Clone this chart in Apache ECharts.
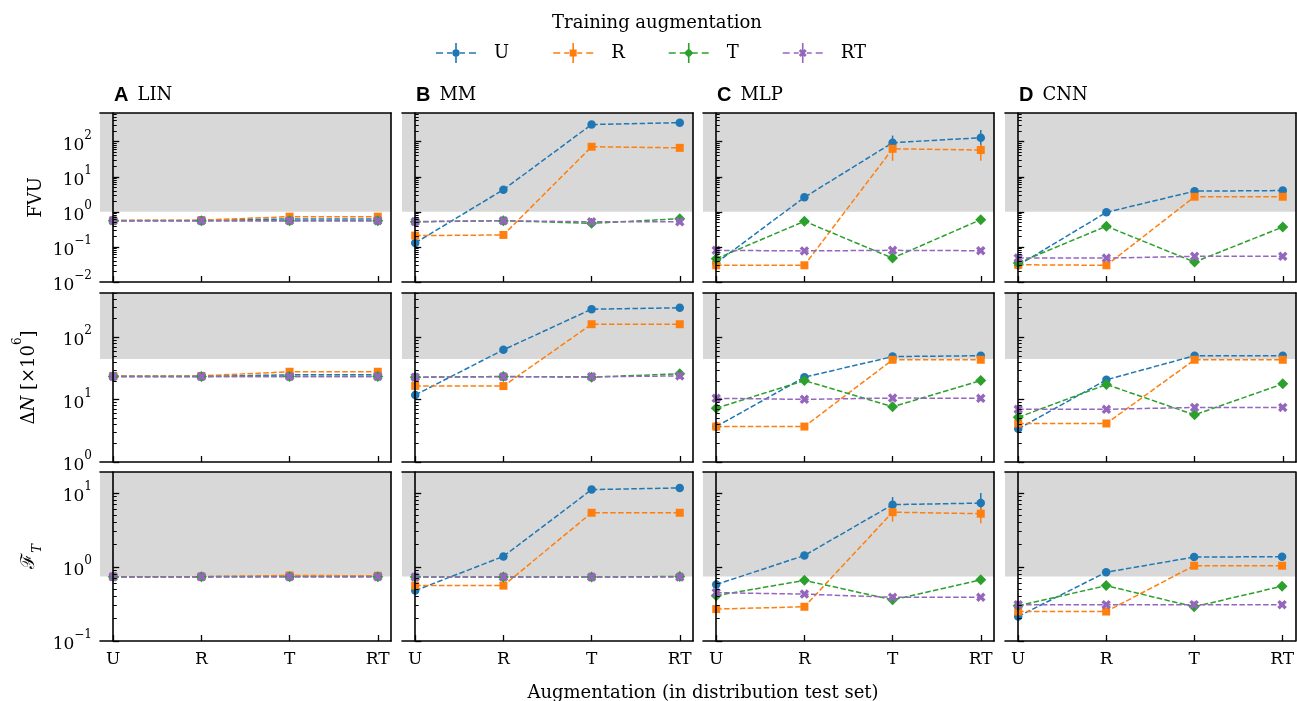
<!DOCTYPE html>
<html>
<head>
<meta charset="utf-8">
<script src="https://cdn.jsdelivr.net/npm/echarts@6/dist/echarts.min.js"></script>
<style>
  html, body { margin: 0; padding: 0; background: #fff; }
  #chart { width: 1297px; height: 701px; }
</style>
</head>
<body>
<div id="chart"></div>
<script>
// test-set augmentation (x) and training augmentation (series)
const CATS = ['U', 'R', 'T', 'RT'];
const TRAIN = ['U', 'R', 'T', 'RT'];
const MODELS = ['LIN', 'MM', 'MLP', 'CNN'];
const LETTERS = ['A', 'B', 'C', 'D'];

// FVU, one row per training augmentation U, R, T, RT
const FVU_LIN = [[0.57, 0.57, 0.63, 0.63], [0.57, 0.58, 0.73, 0.73], [0.56, 0.56, 0.56, 0.56], [0.56, 0.56, 0.56, 0.56]];
const FVU_MM = [[0.13, 4.3, 310, 350], [0.21, 0.22, 72, 67], [0.52, 0.56, 0.47, 0.64], [0.53, 0.56, 0.52, 0.52]];
const FVU_MLP = [[0.035, 2.6, 94, 130], [0.030, 0.030, 63, 58], [0.046, 0.54, 0.048, 0.6], [0.08, 0.077, 0.08, 0.078]];
const FVU_CNN = [[0.030, 0.97, 3.9, 4.05], [0.031, 0.030, 2.7, 2.7], [0.035, 0.39, 0.037, 0.37], [0.048, 0.048, 0.054, 0.054]];

// ΔN [×10^6]
const DN_LIN = [[23.5, 23.5, 25, 25], [24, 24, 28, 28], [23.5, 23.5, 23.5, 23.5], [23.5, 23.5, 23.5, 23.5]];
const DN_MM = [[11.9, 63, 282, 297], [16.6, 16.5, 162, 162], [22.9, 23.5, 22.9, 26], [22.9, 23.3, 23.3, 24]];
const DN_MLP = [[3.7, 22.9, 49, 50.7], [3.7, 3.7, 43.6, 43.6], [7.3, 20.2, 7.7, 20.2], [10.5, 10.1, 10.6, 10.5]];
const DN_CNN = [[3.4, 20.8, 50.7, 50.7], [4.15, 4.15, 43.6, 43.6], [5.2, 17.5, 5.7, 17.9], [7.0, 7.0, 7.5, 7.5]];

// F_T
const FT_LIN = [[0.74, 0.74, 0.75, 0.75], [0.74, 0.74, 0.77, 0.76], [0.74, 0.74, 0.74, 0.74], [0.74, 0.74, 0.74, 0.74]];
const FT_MM = [[0.48, 1.39, 11.1, 11.7], [0.56, 0.56, 5.4, 5.4], [0.73, 0.73, 0.73, 0.745], [0.73, 0.73, 0.73, 0.73]];
const FT_MLP = [[0.58, 1.43, 6.95, 7.3], [0.27, 0.29, 5.5, 5.25], [0.41, 0.66, 0.36, 0.67], [0.45, 0.43, 0.39, 0.39]];
const FT_CNN = [[0.215, 0.85, 1.36, 1.38], [0.25, 0.25, 1.04, 1.04], [0.30, 0.56, 0.29, 0.55], [0.31, 0.31, 0.31, 0.31]];

// error bars [low, high], only visible for the MLP (U and R training)
const FVU_MLP_ERR = [[null, null, [60, 150], [75, 215]], [null, null, [28.6, 115], [28.6, 83]]];
const FT_MLP_ERR = [[null, null, [5.95, 8.8], [5.6, 10]], [null, null, [4.1, 6.6], [3.9, 6.3]]];

const ROW_DATA = [
  [FVU_LIN, FVU_MM, FVU_MLP, FVU_CNN],
  [DN_LIN, DN_MM, DN_MLP, DN_CNN],
  [FT_LIN, FT_MM, FT_MLP, FT_CNN]
];
const ROW_ERR = [[null, null, FVU_MLP_ERR, null], [null, null, null, null], [null, null, FT_MLP_ERR, null]];

// axis limits and start of the grey band, per row
const Y_MIN = [0.01, 1, 0.1];
const Y_MAX = [660, 513, 19.2];
const SHADE_FROM = [1, 45, 0.746];

// layout
const GRID_LEFT = [100, 402, 703, 1005];
const GRID_TOP = [113, 293, 472];
const GRID_W = 291, GRID_H = 169;

const SERIF = "'DejaVu Serif', serif";
const COLORS = ['#1f77b4', '#ff7f0e', '#2ca02c', '#9467bd'];
const X_PATH = 'path://M141,-283L283,-141L141,0L283,141L141,283L0,141L-141,283L-283,141L-141,0L-283,-141L-141,-283L0,-141Z';
const SYMBOLS = ['circle', 'rect', 'diamond', X_PATH];
const SYM_SIZE = [8.5, 8, 11, 9.5];

const ROW_NAMES = [
  'FVU',
  '{a|Δ}{i|N}{a| [×10}{s|6}{a|]}',
  '{f|ℱ}{t|T}'
];
const NAME_GAP = [55, 62, 56];

function decades(lo, hi) {
  const out = [];
  for (let e = Math.round(Math.log10(lo)); Math.pow(10, e) <= hi; e++) out.push(Math.pow(10, e));
  return out;
}
function minors(lo, hi) {
  const out = [];
  for (let e = Math.floor(Math.log10(lo)); e <= Math.ceil(Math.log10(hi)); e++) {
    for (let k = 2; k <= 9; k++) {
      const v = k * Math.pow(10, e);
      if (v > lo && v < hi) out.push(v);
    }
  }
  return out;
}

function legendIcon(s) {
  const dashes = 'M0,92H70V108H0Z M110,92H160V108H110Z M240,92H290V108H240Z M330,92H400V108H330Z ';
  const bar = 'M192,0H208V200H192Z ';
  const marks = [
    'M163,100A37,37 0 1,1 237,100A37,37 0 1,1 163,100Z',
    'M165,65H235V135H165Z',
    'M200,52L248,100L200,148L152,100Z',
    'M220,60L240,80L220,100L240,120L220,140L200,120L180,140L160,120L180,100L160,80L180,60L200,80Z'
  ];
  return 'path://' + dashes + bar + marks[s];
}

const grids = [], xAxes = [], yAxes = [], series = [];
const titles = [
  { text: 'Training augmentation', left: 652, top: 9, textAlign: 'center',
    textStyle: { fontFamily: SERIF, fontSize: 18, fontWeight: 'normal', color: '#000' } },
  { text: 'Augmentation (in distribution test set)', left: 698, top: 679, textAlign: 'center',
    textStyle: { fontFamily: SERIF, fontSize: 18, fontWeight: 'normal', color: '#000' } }
];

const tickLine = { color: '#000', width: 1.3 };
const frameLine = { show: true, lineStyle: { color: '#000', width: 1.6 } };

for (let r = 0; r < 3; r++) {
  for (let c = 0; c < 4; c++) {
    const gi = r * 4 + c;
    grids.push({ left: GRID_LEFT[c], top: GRID_TOP[r], width: GRID_W, height: GRID_H });

    const xBase = { gridIndex: gi, type: 'value', min: -0.15, max: 3.15, splitLine: { show: false }, z: 10 };
    xAxes.push(Object.assign({}, xBase, {
      position: 'bottom',
      axisLine: frameLine,
      axisTick: { customValues: [0, 1, 2, 3], inside: true, length: 6, lineStyle: tickLine },
      axisLabel: { show: r === 2, customValues: [0, 1, 2, 3], formatter: v => CATS[v],
        color: '#000', fontFamily: SERIF, fontSize: 17, margin: 10 }
    }));
    xAxes.push(Object.assign({}, xBase, {
      position: 'top', axisLine: frameLine, axisTick: { show: false }, axisLabel: { show: false }
    }));

    const yBase = { gridIndex: gi, type: 'log', logBase: 10, min: Y_MIN[r], max: Y_MAX[r], splitLine: { show: false }, z: 10 };
    const major = decades(Y_MIN[r], Y_MAX[r]);
    yAxes.push(Object.assign({}, yBase, {
      position: 'left',
      axisLine: frameLine,
      axisTick: { customValues: major, inside: true, length: 6, lineStyle: tickLine },
      axisLabel: {
        show: c === 0, customValues: major, margin: 8,
        formatter: v => {
          const e = Math.round(Math.log10(v));
          return '{b|10}{s|' + (e < 0 ? '\u2212' + (-e) : e) + '}';
        },
        rich: {
          b: { fontFamily: SERIF, fontSize: 17, color: '#000', lineHeight: 24, verticalAlign: 'bottom' },
          s: { fontFamily: SERIF, fontSize: 12, color: '#000', lineHeight: 12, verticalAlign: 'top' }
        }
      },
      name: c === 0 ? ROW_NAMES[r] : '',
      nameLocation: 'middle',
      nameGap: NAME_GAP[r],
      nameTextStyle: {
        fontFamily: SERIF, fontSize: 18, color: '#000',
        rich: {
          a: { fontFamily: SERIF, fontSize: 18, color: '#000', lineHeight: 26, verticalAlign: 'bottom' },
          i: { fontFamily: SERIF, fontSize: 18, fontStyle: 'italic', color: '#000', lineHeight: 26, verticalAlign: 'bottom' },
          s: { fontFamily: SERIF, fontSize: 12, color: '#000', lineHeight: 12, verticalAlign: 'top' },
          f: { fontFamily: SERIF, fontSize: 19, color: '#000', lineHeight: 24, verticalAlign: 'top' },
          t: { fontFamily: SERIF, fontSize: 13, fontStyle: 'italic', color: '#000', lineHeight: 14, verticalAlign: 'bottom' }
        }
      }
    }));
    yAxes.push(Object.assign({}, yBase, {
      position: 'left',
      axisLine: { show: false },
      axisTick: { customValues: minors(Y_MIN[r], Y_MAX[r]), inside: true, length: 3.5, lineStyle: { color: '#000', width: 1 } },
      axisLabel: { show: false }
    }));
    yAxes.push(Object.assign({}, yBase, {
      position: 'right', axisLine: frameLine, axisTick: { show: false }, axisLabel: { show: false }
    }));

    const panel = ROW_DATA[r][c];
    const errs = ROW_ERR[r][c];
    for (let s = 0; s < 4; s++) {
      const line = {
        type: 'line',
        name: TRAIN[s],
        xAxisIndex: 2 * gi,
        yAxisIndex: 3 * gi,
        data: panel[s].map((v, i) => [i, v]),
        symbol: SYMBOLS[s],
        symbolSize: SYM_SIZE[s],
        itemStyle: { color: COLORS[s] },
        lineStyle: { color: COLORS[s], width: 1.5, type: [5.5, 2.4] },
        emphasis: { disabled: true },
        z: 2
      };
      if (s === 0) {
        line.markArea = {
          silent: true,
          itemStyle: { color: '#d8d8d8' },
          data: [[{ yAxis: SHADE_FROM[r] }, { yAxis: Y_MAX[r] }]]
        };
      }
      series.push(line);

      if (errs && errs[s]) {
        const bars = [];
        errs[s].forEach((e, i) => { if (e) bars.push([i, e[0], e[1]]); });
        series.push({
          type: 'custom',
          name: TRAIN[s],
          xAxisIndex: 2 * gi,
          yAxisIndex: 3 * gi,
          data: bars,
          encode: { x: 0, y: [1, 2] },
          silent: true,
          z: 2,
          renderItem: (params, api) => {
            const p1 = api.coord([api.value(0), api.value(1)]);
            const p2 = api.coord([api.value(0), api.value(2)]);
            return {
              type: 'line',
              shape: { x1: p1[0], y1: p1[1], x2: p2[0], y2: p2[1] },
              style: { stroke: COLORS[s], lineWidth: 1.5 }
            };
          }
        });
      }
    }

    if (r === 0) {
      titles.push({
        text: '{b|' + LETTERS[c] + '}{t|' + MODELS[c] + '}',
        left: GRID_LEFT[c] + 9,
        top: 80,
        textStyle: {
          fontWeight: 'normal',
          rich: {
            b: { fontFamily: "'Liberation Sans', Arial, sans-serif", fontWeight: 'bold', fontSize: 20, color: '#000', padding: [0, 9, 0, 0] },
            t: { fontFamily: SERIF, fontWeight: 'normal', fontSize: 18, color: '#000' }
          }
        }
      });
    }
  }
}

const chart = echarts.init(document.getElementById('chart'));
chart.setOption({
  animation: false,
  backgroundColor: '#fff',
  title: titles,
  legend: {
    data: TRAIN.map((n, s) => ({ name: n, icon: legendIcon(s) })),
    left: 431,
    top: 38,
    itemWidth: 40,
    itemHeight: 20,
    itemGap: 44,
    selectedMode: false,
    textStyle: { fontFamily: SERIF, fontSize: 18, color: '#000', padding: [0, 0, 0, 13] }
  },
  grid: grids,
  xAxis: xAxes,
  yAxis: yAxes,
  series: series
});
</script>
</body>
</html>
